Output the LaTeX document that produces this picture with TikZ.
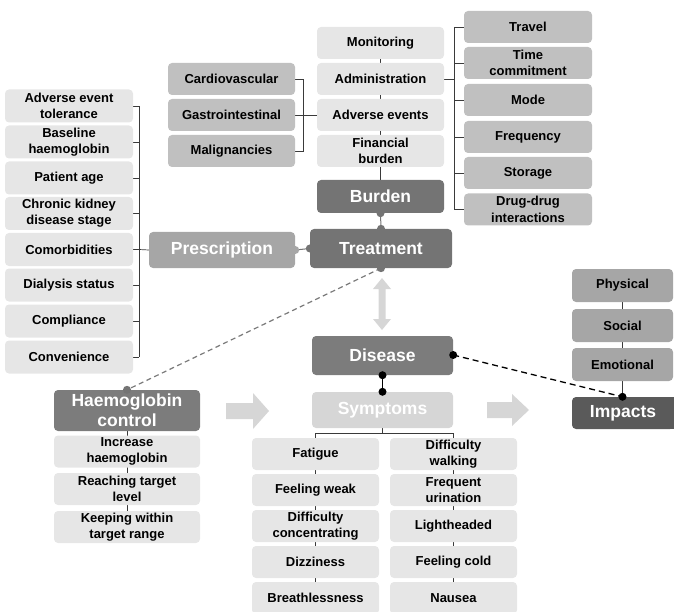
\documentclass[tikz,border=0pt]{standalone}
\usepackage{fontspec}
\setmainfont{Liberation Sans}
\usetikzlibrary{backgrounds}
\definecolor{cLight}{HTML}{E6E6E6}
\definecolor{cMid}{HTML}{C0C0C0}
\definecolor{cPre}{HTML}{A6A6A6}
\definecolor{cPhy}{HTML}{A6A6A6}
\definecolor{cDark}{HTML}{747474}
\definecolor{cDis}{HTML}{7C7C7C}
\definecolor{cImp}{HTML}{5A5A5A}
\definecolor{cSym}{HTML}{D6D6D6}
\definecolor{cArrow}{HTML}{D6D6D6}
\definecolor{cLine}{HTML}{3A3A3A}
\definecolor{cDash}{HTML}{7A7A7A}
\begin{document}
\begin{tikzpicture}[x=1pt,y=-1pt,
  bx/.style={rectangle, rounded corners=4pt, inner sep=0pt, align=center,
    font=\bfseries\fontsize{13}{16.3}\selectfont, text=black},
  hd/.style={bx, font=\bfseries\fontsize{17.5}{20}\selectfont, text=white},
  boxL/.style={bx, fill=cLight, minimum width=128pt, minimum height=33pt},
  boxTM/.style={bx, fill=cLight, minimum width=127pt, minimum height=32pt},
  boxCM/.style={bx, fill=cMid, minimum width=127pt, minimum height=32pt},
  boxRT/.style={bx, fill=cMid, minimum width=128pt, minimum height=32pt},
  boxHS/.style={bx, fill=cLight, minimum width=146pt, minimum height=32pt},
  boxSS/.style={bx, fill=cLight, minimum width=127pt, minimum height=32pt},
  boxIP/.style={bx, fill=cPhy, minimum width=101pt, minimum height=33pt},
  link/.style={draw=cLine, line width=0.7pt},
  fatarrow/.style={fill=cArrow, draw=none}]
\useasboundingbox (0,0) rectangle (674,612);

% left list
\node[boxL] (ae) at (69,106) {Adverse event\\tolerance};
\node[boxL] (bh) at (69,142) {Baseline\\haemoglobin};
\node[boxL] (pa) at (69,178) {Patient age};
\node[boxL] (ck) at (69,213.5) {Chronic kidney\\disease stage};
\node[boxL] (co) at (69,249.5) {Comorbidities};
\node[boxL] (ds) at (69,285) {Dialysis status};
\node[boxL] (cp) at (69,321) {Compliance};
\node[boxL] (cv) at (69,357) {Convenience};

% top middle column
\node[boxTM] (mon) at (380.5,43) {Monitoring};
\node[boxTM] (adm) at (380.5,79) {Administration};
\node[boxTM] (adv) at (380.5,115) {Adverse events};
\node[boxTM] (fin) at (380.5,151) {Financial\\burden};
\node[hd, fill=cDark, minimum width=127pt, minimum height=33pt] (bur) at (380.5,196.5) {Burden};

% adverse event types
\node[boxCM] (car) at (231.5,79) {Cardiovascular};
\node[boxCM] (gas) at (231.5,115) {Gastrointestinal};
\node[boxCM] (mal) at (231.5,151) {Malignancies};

% administration aspects
\node[boxRT] (tra) at (528,27) {Travel};
\node[boxRT] (tim) at (528,63) {Time\\commitment};
\node[boxRT] (mod) at (528,100) {Mode};
\node[boxRT] (fre) at (528,137) {Frequency};
\node[boxRT] (sto) at (528,173) {Storage};
\node[boxRT] (drg) at (528,209.5) {Drug-drug\\interactions};

% main nodes
\node[hd, fill=cDark, minimum width=142pt, minimum height=39pt] (trt) at (381,248.5) {Treatment};
\node[hd, fill=cPre, minimum width=146pt, minimum height=36pt] (pre) at (222,250) {Prescription};
\node[hd, fill=cDis, minimum width=141pt, minimum height=39pt] (dis) at (382.5,355.5) {Disease};
\node[hd, fill=cSym, minimum width=141pt, minimum height=36pt] (sym) at (382.5,410) {Symptoms};
\node[hd, fill=cDis, minimum width=146pt, minimum height=41pt] (hae) at (127,410.5) {Haemoglobin\\control};

% haemoglobin control sub-items
\node[boxHS] (inc) at (127,451.5) {Increase\\haemoglobin};
\node[boxHS] (rea) at (127,489) {Reaching target\\level};
\node[boxHS] (kee) at (127,527) {Keeping within\\target range};

% symptoms
\node[boxSS] (fat) at (315.5,454) {Fatigue};
\node[boxSS] (fw)  at (315.5,490) {Feeling weak};
\node[boxSS] (dc)  at (315.5,526) {Difficulty\\concentrating};
\node[boxSS] (diz) at (315.5,562) {Dizziness};
\node[boxSS] (bre) at (315.5,598) {Breathlessness};
\node[boxSS] (dw)  at (453.5,454) {Difficulty\\walking};
\node[boxSS] (fu)  at (453.5,490) {Frequent\\urination};
\node[boxSS] (lh)  at (453.5,526) {Lightheaded};
\node[boxSS] (fc)  at (453.5,562) {Feeling cold};
\node[boxSS] (nau) at (453.5,598) {Nausea};

% impacts
\node[boxIP] (phy) at (622.5,285.5) {Physical};
\node[boxIP] (soc) at (622.5,325.5) {Social};
\node[boxIP] (emo) at (622.5,364.5) {Emotional};
\node[hd, fill=cImp, minimum width=102pt, minimum height=32pt] (imp) at (623,413) {Impacts};
\coordinate (impdot) at (emo.south |- imp.north);

\begin{pgfonlayer}{background}
  \fill[cImp] (650,397) rectangle (690,429);
  % left bracket
  \coordinate (lbx) at (139,0);
  \foreach \n in {ae,bh,pa,ck,co,ds,cp,cv} {\draw[link] (\n.east) -- (\n.east -| lbx);}
  \draw[link] (ae.east -| lbx) -- (cv.east -| lbx);
  \draw[link] (co.east -| lbx) -- (pre.west);
  % top middle column line
  \draw[link] (mon.center) -- (bur.center);
  % cardio bracket
  \coordinate (cbx) at (303,0);
  \draw[link] (car.east) -- (car.east -| cbx) -- (mal.east -| cbx) -- (mal.east);
  \draw[link] (gas.east) -- (adv.west);
  % right bracket
  \coordinate (rbx) at (454,0);
  \foreach \n in {tra,tim,mod,fre,sto,drg} {\draw[link] (\n.west) -- (\n.west -| rbx);}
  \draw[link] (tra.west -| rbx) -- (drg.west -| rbx);
  \draw[link] (adm.east) -- (adm.east -| rbx);
  % haemoglobin column
  \draw[link] (hae.center) -- (kee.center);
  % symptoms bracket and columns
  \coordinate (sbr) at (0,433);
  \draw[link] (sym.south) -- (sym.south |- sbr);
  \draw[link] (fat.north) -- (fat.north |- sbr) -- (dw.north |- sbr) -- (dw.north);
  \draw[link] (fat.center) -- (bre.center);
  \draw[link] (dw.center) -- (nau.center);
  % impacts column
  \draw[link] (phy.center) -- (impdot);
\end{pgfonlayer}

% dotted connectors
\draw[cDark, line width=1pt] (pre.east) -- (trt.west);
\fill[cPre] (pre.east) circle (4pt);
\fill[cDark] (trt.west) circle (4pt);
\draw[cDark, line width=1pt] (bur.south) -- (trt.north);
\fill[cDark] (bur.south) circle (4pt);
\fill[cDark] (trt.north) circle (4pt);
\draw[cDash, line width=1.2pt, dash pattern=on 5pt off 3.5pt] (trt.south) -- (hae.north);
\fill[cDark] (trt.south) circle (4pt);
\fill[cDark] (hae.north) circle (4pt);
\draw[black, line width=1pt] (dis.south) -- (sym.north);
\fill[black] (dis.south) circle (4pt);
\fill[black] (sym.north) circle (4pt);
\coordinate (disr) at ([yshift=0.5pt]dis.east);
\draw[black, line width=1.3pt, dash pattern=on 6pt off 4pt] (disr) -- (impdot);
\fill[black] (disr) circle (4pt);
\fill[black] (impdot) circle (4pt);

% fat arrows
\fill[fatarrow] (226,403) -- (253,403) -- (253,393) -- (269,411) -- (253,429) -- (253,419) -- (226,419) -- cycle;
\fill[fatarrow] (487,402) -- (512,402) -- (512,394) -- (529,410) -- (512,426) -- (512,418) -- (487,418) -- cycle;
\fill[fatarrow] (382,278) -- (391,289) -- (385.5,289) -- (385.5,319) -- (391,319) -- (382,330) -- (373,319) -- (378.5,319) -- (378.5,289) -- (373,289) -- cycle;
\end{tikzpicture}
\end{document}
